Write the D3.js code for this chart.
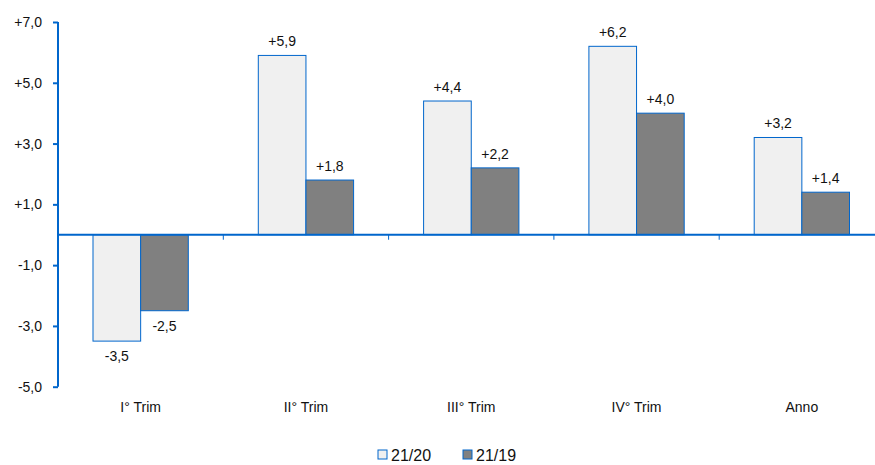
<!DOCTYPE html>
<html><head><meta charset="utf-8">
<script src="https://cdn.jsdelivr.net/npm/d3@7"></script>
<style>body{margin:0;background:#fff}svg{display:block;font-family:"Liberation Sans",Arial,sans-serif}</style>
</head><body>
<script>
const categories = ["I° Trim", "II° Trim", "III° Trim", "IV° Trim", "Anno"];
const seriesNames = ["21/20", "21/19"];
const values2120 = [-3.5, 5.9, 4.4, 6.2, 3.2];
const values2119 = [-2.5, 1.8, 2.2, 4.0, 1.4];
const yTicks = [-5, -3, -1, 1, 3, 5, 7];
const colors = ["#f0f0f0", "#808080"];
const blue = "#0066cc";

const W = 875, H = 465;
const svg = d3.select("body").append("svg").attr("width", W).attr("height", H);

const y = d3.scaleLinear().domain([-5, 7]).range([386.7, 22]);
const x0 = d3.scaleBand().domain(categories).range([58, 884.5]);
const x1 = d3.scaleBand().domain(seriesNames).range([35, x0.bandwidth() - 35]);

const fmt = v => (v > 0 ? "+" : v < 0 ? "-" : "") + Math.abs(v).toFixed(1).replace(".", ",");

const data = categories.map((c, i) => ({c, vals: [values2120[i], values2119[i]]}));

// bars
const g = svg.append("g");
data.forEach(d => {
  d.vals.forEach((v, j) => {
    const xx = x0(d.c) + x1(seriesNames[j]);
    g.append("rect")
      .attr("x", xx).attr("width", x1.bandwidth())
      .attr("y", Math.min(y(v), y(0))).attr("height", Math.abs(y(v) - y(0)))
      .attr("fill", colors[j]).attr("stroke", blue).attr("stroke-width", 1);
    g.append("text")
      .attr("x", xx + x1.bandwidth() / 2)
      .attr("y", v >= 0 ? y(v) - 9 : y(v) + 20)
      .attr("text-anchor", "middle").attr("font-size", 14).attr("fill", "#111")
      .text(fmt(v));
  });
});

// y axis
const yAxis = d3.axisLeft(y).tickValues(yTicks).tickSize(5).tickFormat(fmt);
const ya = svg.append("g").attr("transform", "translate(58,0)").call(yAxis);
ya.select(".domain").attr("stroke", blue).attr("stroke-width", 2).attr("d", `M0,${y(7)}V${y(-5)}`);
ya.selectAll(".tick line").attr("stroke", blue).attr("stroke-width", 2);
ya.selectAll(".tick text").attr("font-size", 14).attr("fill", "#111").attr("x", -16).attr("font-family", "Liberation Sans, Arial, sans-serif");

// zero line with category ticks
const xAxis = d3.axisBottom(x0).tickSize(0).tickFormat("");
const xa = svg.append("g").attr("transform", `translate(0,${y(0)})`);
xa.append("line").attr("x1", 58).attr("x2", W).attr("y1", 0).attr("y2", 0).attr("stroke", blue).attr("stroke-width", 2);
categories.slice(1).forEach(c => {
  xa.append("line").attr("x1", x0(c)).attr("x2", x0(c)).attr("y1", 0).attr("y2", 5).attr("stroke", blue).attr("stroke-width", 1);
});

// category labels
svg.append("g").selectAll("text").data(categories).join("text")
  .attr("x", d => x0(d) + x0.bandwidth() / 2).attr("y", 412)
  .attr("text-anchor", "middle").attr("font-size", 14).attr("fill", "#111")
  .text(d => d);

// legend
const leg = svg.append("g");
const legX = [378, 463];
seriesNames.forEach((s, j) => {
  leg.append("rect").attr("x", legX[j]).attr("y", 450).attr("width", 9).attr("height", 9)
    .attr("fill", colors[j]).attr("stroke", blue).attr("stroke-width", 1);
  leg.append("text").attr("x", legX[j] + 13).attr("y", 461).attr("font-size", 16).attr("fill", "#111").text(s);
});
</script>
</body></html>
